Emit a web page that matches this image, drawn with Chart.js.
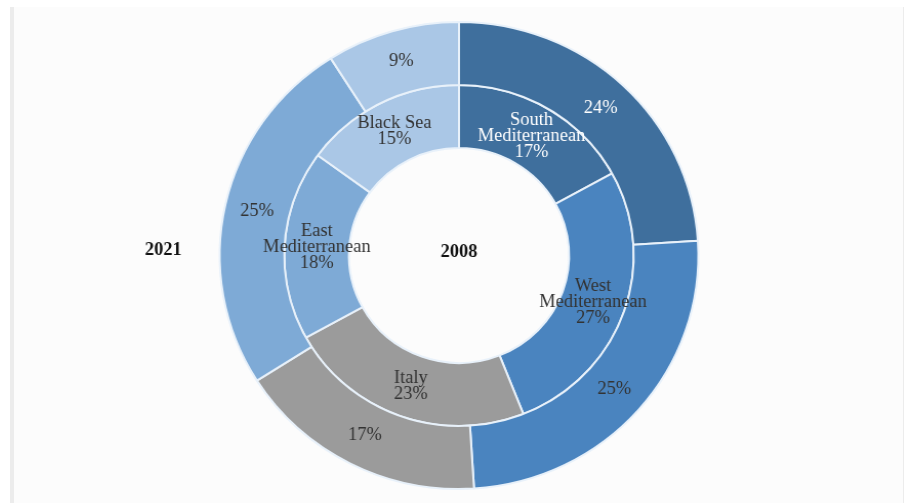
<!DOCTYPE html>
<html>
<head>
<meta charset="utf-8">
<script src="https://cdn.jsdelivr.net/npm/chart.js@4/dist/chart.umd.min.js"></script>
<style>
    html, body { margin: 0; padding: 0; background: #fff; overflow: hidden; }
    #panel {
        position: absolute; left: 10px; top: 7px; width: 889px; height: 500px;
        background: #fcfcfc;
        border-left: 4px solid #ececec;
        border-right: 1px solid #ececec;
    }
    #wrap {
        position: absolute; left: 0; top: 0; width: 908px; height: 503px;
        transform: scaleX(1.025); transform-origin: 459px 50%;
    }
</style>
</head>
<body>
<div id="panel"></div>
<div id="wrap"><canvas id="myChart" width="908" height="503"></canvas></div>
<script>
// Shipping share by region, outer ring 2021, inner ring 2008
const regions = [["South", "Mediterranean"], ["West", "Mediterranean"], ["Italy"], ["East", "Mediterranean"], ["Black Sea"]];
const share2021 = [24, 25, 17, 25, 9];
const share2008 = [17, 27, 23, 18, 15];
const years = ["2021", "2008"];

const sliceColors = ["#3f6f9d", "#4a84bf", "#9b9b9b", "#7eaad6", "#aac7e6"];
const textColors = ["#ffffff", "#333333", "#333333", "#333333", "#333333"];
const serif = "'Liberation Serif', 'Times New Roman', serif";

// Writes the percentage (and the region name on the inner ring) into each arc,
// plus the year captions for both rings
const ringLabels = {
    id: "ringLabels",
    afterDatasetsDraw(chart) {
        const ctx = chart.ctx;
        ctx.save();
        ctx.textAlign = "center";
        ctx.textBaseline = "middle";
        ctx.font = "18px " + serif;

        chart.data.datasets.forEach(function (ds, di) {
            const meta = chart.getDatasetMeta(di);
            meta.data.forEach(function (arc, i) {
                const pos = arc.tooltipPosition();
                const lines = di === 0 ? [] : regions[i].slice();
                lines.push(ds.data[i] + "%");
                const lh = 16;
                const top = pos.y - (lines.length - 1) * lh / 2;
                ctx.fillStyle = textColors[i];
                lines.forEach(function (t, k) {
                    ctx.fillText(t, pos.x, top + k * lh);
                });
            });
        });

        const outer = chart.getDatasetMeta(0).data[0];
        ctx.fillStyle = "#111";
        ctx.font = "bold 18px " + serif;
        ctx.fillText(years[0], outer.x - outer.outerRadius - 55, outer.y - 5);
        ctx.fillText(years[1], outer.x, outer.y - 3);
        ctx.restore();
    }
};

new Chart(document.getElementById("myChart"), {
    type: "doughnut",
    data: {
        labels: regions,
        datasets: [{
            label: years[0],
            data: share2021,
            backgroundColor: sliceColors,
            borderColor: "#e8f1fa",
            borderWidth: 2
        }, {
            label: years[1],
            data: share2008,
            backgroundColor: sliceColors,
            borderColor: "#e8f1fa",
            borderWidth: 2
        }]
    },
    options: {
        responsive: false,
        animation: false,
        cutout: "46%",
        layout: { padding: { top: 21, bottom: 13, left: 10, right: 0 } },
        plugins: {
            legend: { display: false },
            tooltip: { enabled: false }
        }
    },
    plugins: [ringLabels]
});
</script>
</body>
</html>
